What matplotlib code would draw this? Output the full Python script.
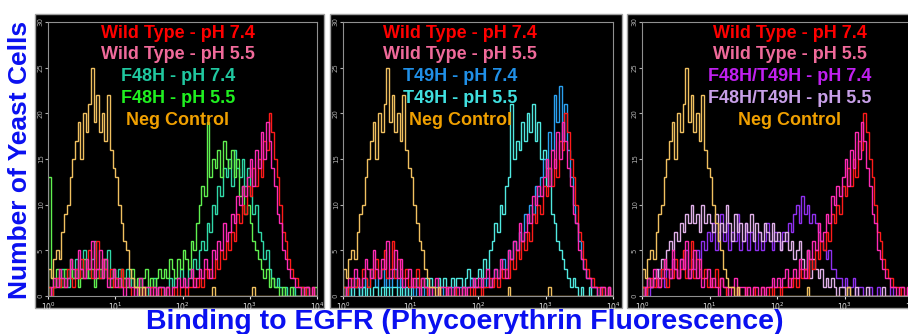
import numpy as np
import matplotlib.pyplot as plt
from matplotlib.patches import Rectangle

# histogram counts, 25 channels per decade from 10^0 to 10^4
neg_control = ([3, 2, 4, 5, 4, 7, 9, 10, 13, 15, 17, 19, 15, 20, 18, 21, 25, 19, 22, 18, 20, 17, 22, 16, 14]
               + [13, 10, 8, 6, 5, 3, 2, 1, 1, 0, 1, 0, 0, 0, 0, 0, 0, 0, 0, 0, 0, 0, 0, 0, 0]
               + [0, 0, 0, 0, 0, 0, 0, 0, 0, 0, 0, 1, 0, 0, 0, 0, 0, 0, 0, 0, 0, 0, 0, 0, 0]
               + [0, 1, 0, 0, 0, 0, 0, 0, 0, 0, 0, 0, 0, 0, 0, 0, 0, 0, 0, 0, 0, 0, 0, 0, 0])
wt_74 = ([1, 0, 1, 2, 1, 2, 1, 3, 2, 1, 3, 2, 4, 2, 3, 5, 2, 3, 6, 2, 4, 3, 2, 3, 1]
         + [2, 1, 3, 1, 2, 1, 0, 1, 1, 0, 1, 0, 0, 1, 0, 0, 1, 0, 0, 1, 0, 0, 1, 0, 1]
         + [1, 0, 1, 1, 2, 1, 2, 1, 3, 2, 3, 2, 4, 3, 5, 4, 6, 5, 7, 6, 9, 8, 10, 9, 12]
         + [11, 14, 12, 15, 13, 17, 16, 20, 18, 15, 13, 10, 7, 6, 4, 3, 2, 2, 1, 1, 0, 1, 0, 1, 0])
wt_55 = ([0, 1, 2, 1, 3, 2, 1, 2, 4, 3, 2, 5, 3, 2, 4, 3, 6, 2, 3, 5, 2, 4, 1, 2, 3]
         + [1, 2, 1, 0, 2, 1, 1, 0, 1, 2, 0, 1, 1, 0, 1, 0, 1, 1, 0, 1, 0, 1, 1, 2, 1]
         + [2, 1, 2, 3, 1, 2, 3, 2, 4, 3, 2, 5, 4, 6, 5, 8, 6, 7, 9, 8, 11, 10, 12, 11, 13]
         + [15, 12, 16, 14, 18, 15, 19, 17, 14, 12, 9, 8, 5, 4, 3, 2, 2, 1, 1, 0, 1, 1, 0, 1, 0])
f48h_74 = ([1, 0, 1, 2, 1, 3, 2, 1, 3, 2, 4, 2, 3, 5, 2, 3, 4, 6, 3, 2, 4, 3, 5, 2, 3]
           + [2, 3, 1, 2, 3, 1, 2, 1, 0, 2, 1, 1, 0, 1, 2, 0, 1, 1, 0, 1, 2, 1, 2, 2, 3]
           + [2, 1, 3, 2, 4, 3, 5, 6, 5, 8, 7, 10, 9, 12, 11, 14, 13, 15, 12, 16, 14, 13, 15, 12, 14]
           + [11, 9, 10, 7, 6, 4, 5, 3, 2, 1, 2, 1, 0, 1, 0, 0, 1, 0, 0, 0, 0, 1, 0, 0, 0])
f48h_55 = ([13, 2, 1, 3, 2, 1, 3, 2, 4, 2, 3, 1, 2, 4, 3, 2, 3, 1, 2, 3, 2, 4, 2, 1, 3]
           + [2, 1, 3, 2, 1, 2, 3, 1, 2, 1, 2, 3, 1, 2, 1, 2, 3, 2, 3, 2, 4, 3, 2, 4, 3]
           + [5, 4, 3, 6, 5, 8, 10, 12, 11, 19, 13, 15, 14, 16, 13, 17, 15, 14, 16, 13, 15, 11, 12, 9, 10]
           + [8, 6, 5, 4, 3, 2, 3, 1, 2, 1, 1, 0, 1, 0, 0, 1, 0, 0, 0, 1, 0, 0, 0, 0, 1])
t49h_74 = ([0, 1, 0, 1, 2, 1, 0, 1, 2, 1, 3, 2, 1, 2, 3, 1, 2, 1, 2, 3, 1, 2, 1, 0, 1]
           + [1, 0, 1, 1, 0, 1, 0, 1, 0, 0, 1, 1, 0, 1, 0, 1, 0, 1, 1, 0, 1, 1, 2, 1, 1]
           + [1, 2, 1, 2, 1, 2, 3, 2, 3, 4, 3, 5, 4, 6, 5, 7, 6, 9, 8, 10, 9, 12, 11, 13, 15]
           + [14, 18, 16, 22, 19, 23, 17, 21, 16, 13, 10, 8, 6, 4, 3, 2, 2, 1, 1, 0, 1, 0, 0, 1, 0])
t49h_55 = ([1, 0, 1, 0, 1, 1, 0, 1, 0, 1, 0, 1, 1, 0, 1, 0, 1, 0, 1, 1, 0, 1, 0, 1, 0]
           + [1, 1, 2, 1, 1, 2, 1, 2, 1, 1, 2, 1, 2, 1, 1, 2, 1, 2, 2, 1, 2, 3, 2, 1, 2]
           + [3, 2, 4, 3, 5, 6, 8, 7, 10, 9, 12, 13, 21, 15, 17, 16, 19, 17, 20, 18, 21, 17, 19, 15, 16]
           + [12, 14, 9, 8, 6, 5, 4, 3, 2, 1, 2, 1, 0, 1, 0, 0, 1, 0, 0, 0, 0, 0, 0, 0, 0])
dm_74 = ([0, 1, 0, 1, 2, 1, 3, 2, 1, 3, 2, 4, 3, 2, 4, 3, 5, 2, 4, 3, 5, 4, 6, 5, 7]
         + [6, 8, 5, 7, 9, 6, 8, 5, 7, 6, 9, 5, 6, 8, 5, 7, 6, 5, 7, 5, 6, 8, 6, 5, 7]
         + [6, 5, 7, 6, 8, 7, 9, 10, 8, 11, 9, 10, 8, 9, 8, 7, 6, 5, 4, 5, 3, 3, 2, 2, 1]
         + [2, 1, 1, 2, 0, 1, 1, 0, 0, 1, 0, 0, 1, 0, 0, 0, 0, 1, 0, 0, 0, 0, 0, 0, 0])
dm_55 = ([1, 0, 2, 1, 2, 3, 2, 4, 3, 5, 6, 5, 7, 6, 8, 7, 9, 8, 10, 8, 9, 7, 10, 8, 9]
         + [8, 7, 9, 6, 8, 7, 10, 8, 6, 9, 7, 8, 6, 8, 7, 9, 6, 8, 7, 6, 8, 7, 6, 8, 6]
         + [7, 5, 6, 7, 5, 6, 4, 5, 6, 4, 3, 5, 2, 4, 3, 2, 3, 1, 2, 1, 2, 1, 0, 1, 1]
         + [0, 1, 0, 0, 1, 0, 0, 0, 1, 0, 0, 0, 0, 0, 1, 0, 0, 0, 0, 0, 0, 0, 0, 0, 0])

edges = 10 ** np.linspace(0, 4, 101)

# (label, data, line colour, text colour)
panels = [
    [("F48H - pH 7.4", f48h_74, "#30d8a8", "#20c8a0"),
     ("F48H - pH 5.5", f48h_55, "#60f050", "#20f020")],
    [("T49H - pH 7.4", t49h_74, "#2aa0f0", "#2090e8"),
     ("T49H - pH 5.5", t49h_55, "#50e8e0", "#40e0e0")],
    [("F48H/T49H - pH 7.4", dm_74, "#9030f0", "#c020f0"),
     ("F48H/T49H - pH 5.5", dm_55, "#e0b0e8", "#c8a0e8")],
]
wt_lines = [("Wild Type - pH 7.4", wt_74, "#ff1a1a", "#ff0000"),
            ("Wild Type - pH 5.5", wt_55, "#ff2ab4", "#f06a9a")]
neg_line = ("Neg Control", neg_control, "#f0c060", "#f0a000")

W, H = 908, 334
fig = plt.figure(figsize=(W / 100, H / 100), dpi=100)
fig.patch.set_facecolor("white")

# pixel boxes: outer black frame and plot area
frames = [(35, 324), (330, 622), (627, 920)]
plot_x = [(48, 317), (343, 613), (642, 912)]
text_x = [178, 460, 790]
top, bottom = 22, 296

for i in range(3):
    fx0, fx1 = frames[i]
    fig.patches.append(Rectangle((fx0 / W, 1 - 308 / H), (fx1 - fx0) / W, (308 - 14) / H,
                                 transform=fig.transFigure, facecolor="black",
                                 edgecolor="#a0a0a0", lw=1.0, zorder=-5))
    x0, x1 = plot_x[i]
    ax = fig.add_axes([x0 / W, 1 - bottom / H, (x1 - x0) / W, (bottom - top) / H])
    ax.set_zorder(1)
    ax.set_facecolor("black")
    ax.set_xscale("log")
    ax.set_xlim(1, 1e4)
    ax.set_ylim(0, 30)

    for label, vals, lc, tc in panels[i] + wt_lines + [neg_line]:
        ax.stairs(vals, edges, color=lc, lw=1.0, baseline=0)

    for j, (label, vals, lc, tc) in enumerate(wt_lines + panels[i] + [neg_line]):
        ax.text(text_x[i] / W, 1 - (33 + 21.8 * j) / H, label, transform=fig.transFigure,
                ha="center", va="center", color=tc, fontsize=13, fontweight="bold",
                family="Liberation Sans")

    ax.set_xticks([1, 10, 100, 1000, 10000])
    ax.set_xticklabels([r"$10^{%d}$" % k for k in range(5)])
    ax.xaxis.set_minor_locator(plt.NullLocator())
    ax.set_yticks([0, 5, 10, 15, 20, 25, 30])
    ax.tick_params(axis="x", colors="#e0e0e0", labelsize=5.5, length=2, pad=1)
    ax.tick_params(axis="y", colors="#b0b0b0", labelsize=5, length=2, pad=1,
                   labelrotation=90)
    for lab in ax.get_yticklabels():
        lab.set_va("center")
    for s in ax.spines.values():
        s.set_color("#909090")
        s.set_linewidth(0.8)

fig.text(20 / W, 1 - 160 / H, "Number of Yeast Cells", rotation=90, ha="center",
         va="center", color="#0a10f0", fontsize=19, fontweight="bold",
         family="Liberation Sans")
fig.text(465 / W, 1 - 322 / H, "Binding to EGFR (Phycoerythrin Fluorescence)",
         ha="center", va="center", color="#0a10f0", fontsize=20.5, fontweight="bold",
         family="Liberation Sans")

fig.savefig("out.png", dpi=100, facecolor="white")
